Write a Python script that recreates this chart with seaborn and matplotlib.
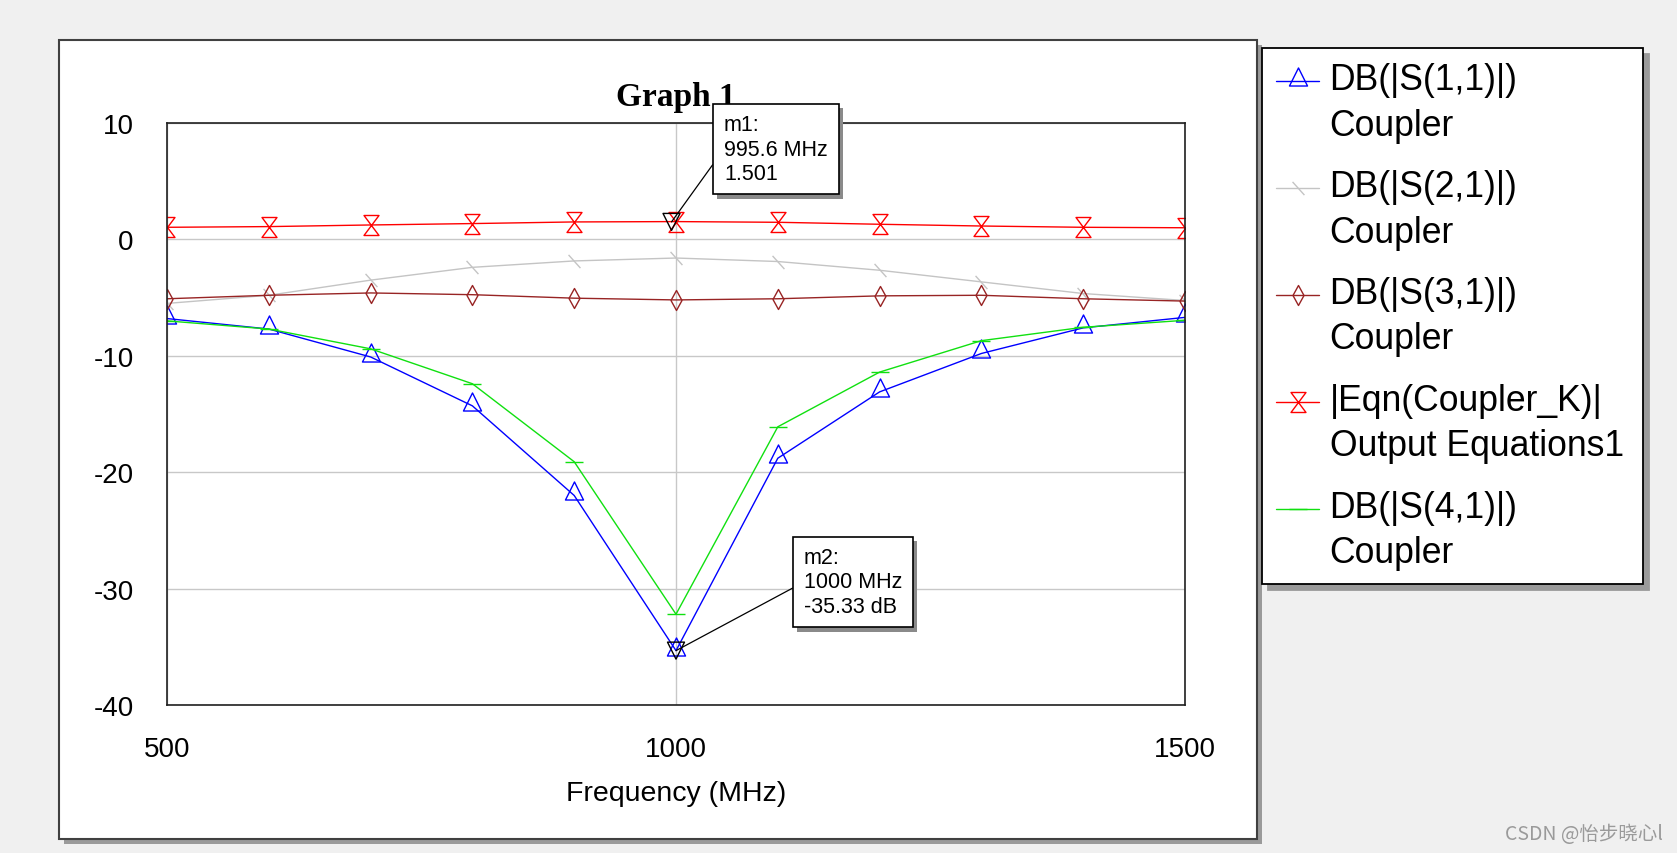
import numpy as np
import pandas as pd
import matplotlib
matplotlib.use("Agg")
import matplotlib.pyplot as plt
import seaborn as sns
from matplotlib.path import Path
from matplotlib.lines import Line2D
from matplotlib.legend_handler import HandlerLine2D
from matplotlib.patches import Rectangle
import matplotlib.patheffects as pe

# ---------------- data ----------------
freq_mhz = [500, 600, 700, 800, 900, 1000, 1100, 1200, 1300, 1400, 1500]
s11_db = [-6.8, -7.7, -10.1, -14.3, -22.0, -35.33, -18.8, -13.1, -9.8, -7.6, -6.7]
s21_db = [-5.5, -4.8, -3.5, -2.4, -1.85, -1.6, -1.9, -2.65, -3.65, -4.65, -5.25]
s31_db = [-5.1, -4.8, -4.6, -4.75, -5.05, -5.2, -5.1, -4.85, -4.8, -5.1, -5.3]
coupler_k = [1.04, 1.1, 1.24, 1.36, 1.5, 1.53, 1.47, 1.3, 1.15, 1.04, 1.0]
s41_db = [-7.0, -7.7, -9.4, -12.4, -19.1, -32.2, -16.1, -11.4, -8.7, -7.55, -6.95]

series_labels = ["DB(|S(1,1)|)\nCoupler", "DB(|S(2,1)|)\nCoupler",
                 "DB(|S(3,1)|)\nCoupler", "|Eqn(Coupler_K)|\nOutput Equations1",
                 "DB(|S(4,1)|)\nCoupler"]
x_ticks = [500, 1000, 1500]
y_ticks = [-40, -30, -20, -10, 0, 10]
m1_freq, m1_val = 995.6, 1.501
m2_freq, m2_val = 1000, -35.33

# ---------------- style ----------------
sns.set_theme(style="white")
plt.rcParams["font.family"] = ["Liberation Sans", "DejaVu Sans"]
plt.rcParams["axes.unicode_minus"] = False
plt.rcParams["text.color"] = "black"
plt.rcParams["axes.labelcolor"] = "black"

W, H = 1677, 854
fig = plt.figure(figsize=(W / 100, H / 100), dpi=100, facecolor="#f0f0f0")


def fx(px):
    return px / W


def fy(py):
    return 1 - py / H


# white graph window with shadow
panel = Rectangle((fx(59), fy(840)), fx(1257) - fx(59), fy(41) - fy(840),
                  transform=fig.transFigure, fc="white", ec="#404040", lw=1.5, zorder=-5)
panel.set_path_effects([pe.SimplePatchShadow(offset=(3.6, -3.6), shadow_rgbFace="#9a9a9a", alpha=1),
                        pe.Normal()])
fig.add_artist(panel)

ax = fig.add_axes([fx(167), fy(706), fx(1185) - fx(167), fy(124) - fy(706)])
ax.set_facecolor("white")

# custom marker shapes
MV, LT, CP = Path.MOVETO, Path.LINETO, Path.CLOSEPOLY
tri_path = Path([(0, 1.5), (-1, -0.5), (1, -0.5), (0, 1.5)], [MV, LT, LT, CP])
hourglass = Path([(-0.75, 1), (0.75, 1), (-0.75, -1), (0.75, -1), (-0.75, 1)], [MV, LT, LT, LT, CP])
diamond = Path([(0, 1), (0.55, 0), (0, -1), (-0.55, 0), (0, 1)], [MV, LT, LT, LT, CP])
slash = Path([(-0.9, 1), (0.9, -1)], [MV, LT])

df = pd.DataFrame({"freq": freq_mhz, "s11": s11_db, "s21": s21_db,
                   "s31": s31_db, "k": coupler_k, "s41": s41_db})

specs = [
    ("s11", series_labels[0], "#0000ff", tri_path, 19.5),
    ("s21", series_labels[1], "#c4c4c4", slash, 9.5),
    ("s31", series_labels[2], "#982424", diamond, 14.4),
    ("k", series_labels[3], "#ff0000", hourglass, 14.4),
    ("s41", series_labels[4], "#10e010", "_", 12.6),
]
for col, lab, colr, mk, ms in specs:
    sns.lineplot(data=df, x="freq", y=col, ax=ax, color=colr, lw=1.0, marker=mk,
                 markersize=ms, markerfacecolor="none", markeredgecolor=colr,
                 markeredgewidth=1.0, label=lab, legend=False, errorbar=None)

# marker symbols m1 / m2
sns.scatterplot(x=[m1_freq, m2_freq], y=[m1_val, m2_val], ax=ax, marker="v", s=150,
                facecolor="none", edgecolor="black", linewidth=1.0, zorder=6, legend=False)

ax.set_xlim(500, 1500)
ax.set_ylim(-40, 10)
ax.set_xticks(x_ticks)
ax.set_yticks(y_ticks)
ax.grid(True, color="#c8c8c8", lw=1.0)
ax.set_axisbelow(True)
ax.tick_params(axis="both", length=0, labelsize=20, colors="black")
ax.tick_params(axis="x", pad=22)
ax.tick_params(axis="y", pad=24)
for sp in ax.spines.values():
    sp.set_color("#202020")
    sp.set_linewidth(1.2)
    sp.set_visible(True)
ax.set_xlabel("Frequency (MHz)", fontsize=20.5, labelpad=13, color="black")
ax.set_ylabel("")
ax.set_title("Graph 1", fontfamily="Liberation Serif", fontweight="bold", fontsize=24,
             pad=13, color="black")

# marker annotation boxes
box_kw = dict(boxstyle="square,pad=0.5", fc="white", ec="black", lw=1.2)
arrow_kw = dict(arrowstyle="-", color="black", lw=0.9, relpos=(0, 0.5), shrinkA=0, shrinkB=0)
a1 = ax.annotate(f"m1:\n{m1_freq} MHz\n{m1_val}", xy=(m1_freq, m1_val), xycoords="data",
                 xytext=(fx(724), fy(150)), textcoords="figure fraction", ha="left", va="center",
                 fontsize=15.5, bbox=box_kw, arrowprops=arrow_kw, zorder=10, annotation_clip=False)
a2 = ax.annotate(f"m2:\n{m2_freq:g} MHz\n{m2_val} dB", xy=(m2_freq, m2_val), xycoords="data",
                 xytext=(fx(804), fy(583)), textcoords="figure fraction", ha="left", va="center",
                 fontsize=15.5, bbox=box_kw, arrowprops=arrow_kw, zorder=10, annotation_clip=False)
for a in (a1, a2):
    a.get_bbox_patch().set_path_effects([pe.SimplePatchShadow(offset=(3, -3), shadow_rgbFace="#8a8a8a", alpha=1),
                                         pe.Normal()])


# legend: handle aligned with first line of each two-line label
class UpHandler(HandlerLine2D):
    def create_artists(self, legend, orig_handle, xdescent, ydescent, width, height, fontsize, trans):
        arts = super().create_artists(legend, orig_handle, xdescent, ydescent, width, height, fontsize, trans)
        for a in arts:
            a.set_ydata(np.asarray(a.get_ydata(), float) + 0.62 * fontsize)
        return arts


handles, labels = ax.get_legend_handles_labels()
handles, labels = handles[:5], labels[:5]
leg = fig.legend(handles, labels, loc="upper left",
                 bbox_to_anchor=(fx(1262), fy(49), fx(1643) - fx(1262), 0), mode="expand",
                 bbox_transform=fig.transFigure, borderaxespad=0, borderpad=0.4,
                 handlelength=1.2, handletextpad=0.3, labelspacing=0.74,
                 prop={"family": "Liberation Sans", "size": 25.6}, frameon=True, fancybox=False,
                 edgecolor="black", facecolor="white", framealpha=1,
                 shadow={"ox": 4, "oy": -4, "facecolor": "#9a9a9a", "edgecolor": "#9a9a9a", "alpha": 1},
                 handler_map={Line2D: UpHandler()})
leg.get_frame().set_linewidth(1.3)
for t in leg.get_texts():
    t.set_linespacing(1.39)

fig.text(fx(1663), fy(835), "CSDN @怡步晓心l", ha="right", va="center", fontsize=14,
         color="#9a9a9a", family=["Noto Sans CJK SC", "DejaVu Sans"])

fig.savefig("out.png", dpi=100, facecolor=fig.get_facecolor())
